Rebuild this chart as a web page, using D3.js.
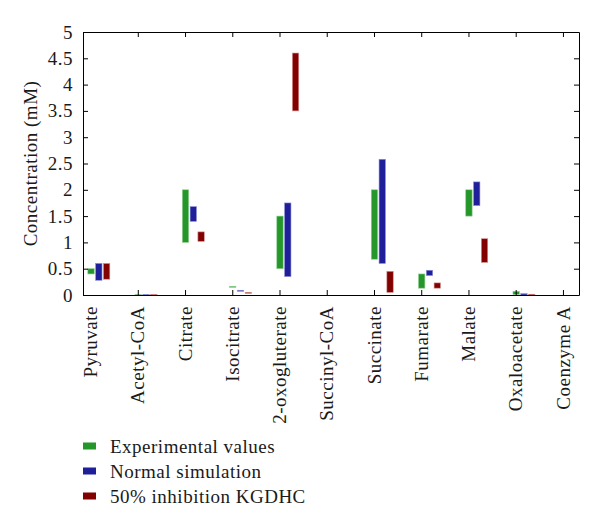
<!DOCTYPE html>
<html>
<head>
<meta charset="utf-8">
<script src="https://cdn.jsdelivr.net/npm/d3@7"></script>
<style>
  body { margin: 0; background: #fff; }
  text { font-family: "Liberation Serif", "Times New Roman", serif; fill: #1a1a1a; }
</style>
</head>
<body>
<div id="chart"></div>
<script>
// metabolites along the x axis
var categories = ["Pyruvate", "Acetyl-CoA", "Citrate", "Isocitrate", "2-oxogluterate",
  "Succinyl-CoA", "Succinate", "Fumarate", "Malate", "Oxaloacetate", "Coenzyme A"];

// concentration ranges (low / high) in mM, null = nothing drawn
var expLow  = [0.40, 0.00, 1.00, 0.155, 0.50, null, 0.68, 0.13, 1.50, 0.01, null];
var expHigh = [0.50, 0.01, 2.00, 0.165, 1.50, null, 2.00, 0.40, 2.00, 0.07, null];
var simLow  = [0.28, 0.00, 1.40, 0.075, 0.35, null, 0.60, 0.37, 1.70, 0.00, null];
var simHigh = [0.60, 0.01, 1.68, 0.090, 1.75, null, 2.58, 0.47, 2.15, 0.025, null];
var inhLow  = [0.30, 0.00, 1.02, 0.040, 3.50, null, 0.05, 0.13, 0.62, 0.00, null];
var inhHigh = [0.60, 0.01, 1.20, 0.050, 4.60, null, 0.45, 0.23, 1.07, 0.015, null];

var seriesNames = ["Experimental values", "Normal simulation", "50% inhibition KGDHC"];
var seriesColors = ["#25962a", "#1e1f99", "#820202"];
var seriesEdges = ["#8fd08f", "#8e8fd8", "#d89090"];
var yTicks = [0, 0.5, 1, 1.5, 2, 2.5, 3, 3.5, 4, 4.5, 5];

var width = 600, height = 527;
var margin = { top: 32, right: 21, bottom: 232, left: 83 };
var innerW = width - margin.left - margin.right,
  innerH = height - margin.top - margin.bottom;
var fontSize = "19px", spacing = "0.5px";

var svg = d3.select("#chart")
  .append("svg")
  .attr("width", width)
  .attr("height", height);

var g = svg.append("g")
  .attr("transform", "translate(" + margin.left + "," + margin.top + ")");

// scales
var xScale = d3.scaleLinear()
  .domain([-0.16, 10.34])
  .range([0, innerW]);
var yScale = d3.scaleLinear()
  .domain([0, 5])
  .range([innerH, 0]);

var offsets = [0.01, 0.175, 0.34];
var barW = 0.135;

var series = [
  { low: expLow, high: expHigh },
  { low: simLow, high: simHigh },
  { low: inhLow, high: inhHigh }
];

// bars
series.forEach(function(s, k) {
  var rows = categories.map(function(c, i) {
    return { i: i, lo: s.low[i], hi: s.high[i] };
  }).filter(function(d) { return d.lo !== null; });

  g.selectAll(".bar" + k)
    .data(rows)
    .enter()
    .append("rect")
    .attr("class", "bar" + k)
    .attr("x", function(d) { return xScale(d.i + offsets[k] - barW / 2); })
    .attr("width", xScale(barW) - xScale(0))
    .attr("y", function(d) { return yScale(d.hi); })
    .attr("height", function(d) { return Math.max(1, yScale(d.lo) - yScale(d.hi)); })
    .attr("fill", seriesColors[k])
    .attr("stroke", seriesEdges[k])
    .attr("stroke-width", 0.6);
});

var tickIdx = d3.range(1, categories.length);

// left axis with labels
var yAxisG = g.append("g")
  .call(d3.axisLeft(yScale).tickValues(yTicks).tickSizeInner(-5).tickSizeOuter(0)
    .tickPadding(10).tickFormat(function(d) { return d; }));
yAxisG.attr("font-family", null).attr("font-size", null);
yAxisG.selectAll("text")
  .style("font-size", fontSize)
  .style("letter-spacing", spacing);

// right axis ticks only
g.append("g")
  .attr("transform", "translate(" + innerW + ",0)")
  .call(d3.axisRight(yScale).tickValues(yTicks).tickSizeInner(-5).tickSizeOuter(0)
    .tickFormat(""));

// top axis ticks only
g.append("g")
  .call(d3.axisTop(xScale).tickValues(tickIdx).tickSizeInner(-5).tickSizeOuter(0)
    .tickFormat(""));

// bottom axis ticks
g.append("g")
  .attr("transform", "translate(0," + innerH + ")")
  .call(d3.axisBottom(xScale).tickValues(tickIdx).tickSizeInner(-5).tickSizeOuter(0)
    .tickFormat(""));

g.selectAll(".domain").attr("stroke", "#000");
g.selectAll(".tick line").attr("stroke", "#000");

// category labels, rotated
g.selectAll(".catLabel")
  .data(categories)
  .enter()
  .append("text")
  .attr("class", "catLabel")
  .attr("transform", function(d, i) {
    return "translate(" + xScale(i) + "," + (innerH + 11) + ")rotate(-90)";
  })
  .attr("dy", "0.35em")
  .attr("text-anchor", "end")
  .style("font-size", fontSize)
  .style("letter-spacing", spacing)
  .text(function(d) { return d; });

// y axis label
svg.append("text")
  .attr("transform", "translate(37," + (margin.top + innerH / 2) + ")rotate(-90)")
  .attr("text-anchor", "middle")
  .style("font-size", fontSize)
  .style("letter-spacing", spacing)
  .text("Concentration (mM)");

// legend
var legend = svg.append("g")
  .attr("transform", "translate(83,446)");
seriesNames.forEach(function(name, k) {
  legend.append("rect")
    .attr("x", 0)
    .attr("y", k * 25 - 3.5)
    .attr("width", 13)
    .attr("height", 7)
    .attr("fill", seriesColors[k]);
  legend.append("text")
    .attr("x", 27)
    .attr("y", k * 25 + 6.5)
    .style("font-size", fontSize)
    .style("letter-spacing", spacing)
    .text(name);
});
</script>
</body>
</html>
